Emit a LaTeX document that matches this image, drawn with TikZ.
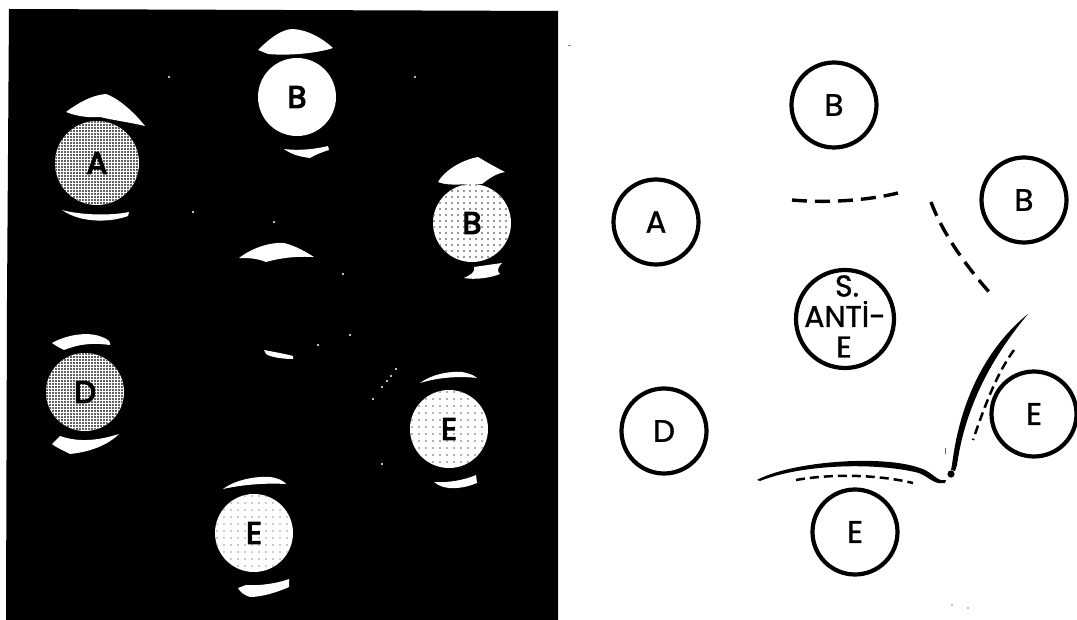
\documentclass[tikz,border=0pt]{standalone}
\usepackage{fontspec}
\setmainfont{Poppins}
\newfontface\keyface[FakeBold=1.2]{Poppins}
\newfontface\photoface[FakeBold=4]{Poppins}
\tikzset{
  x=1pt,y=-1pt,
  photodisc/.style={circle,fill=white,minimum size=#1,inner sep=0pt,text=black,font=\photoface\fontsize{31}{31}\selectfont},
  halftone/.style 2 args={path picture={
    \foreach \i in {-45,#1,...,45}{\foreach \j in {-45,#1,...,45}{
      \fill[#2] ([shift={(\i,\j)}]path picture bounding box.center) rectangle +(1.7,1.7);}}}},
  blob/.style={fill=white,draw=none},
  speck/.style={fill=white,draw=none},
  ringdisc/.style={circle,draw=black,line width=4.2pt,fill=white,minimum size=85pt,inner sep=0pt,font=\keyface\fontsize{31}{31}\selectfont},
  keytext/.style={font=\keyface\fontsize{30}{30}\selectfont,inner sep=0pt},
  dashline/.style={draw=black,line width=3.4pt,dash pattern=on 15pt off 8pt},
  thindash/.style={draw=black,line width=2.5pt,dash pattern=on 9pt off 5pt},
  band/.style={fill=black,draw=none},
}
\begin{document}
\begin{tikzpicture}
\useasboundingbox (0,0) rectangle (1077,620);
\fill[white] (0,0) rectangle (1077,620);
\fill[black] (9,9) -- (558,11) -- (558,620) -- (6,620) -- (7,300) -- cycle;

% photograph: discs
\node[photodisc=84pt,halftone={-42}{black!62}] (pa) at (97,163) {A};
\node[photodisc=78pt] (pb1) at (297,97) {B};
\node[photodisc=78pt,halftone={-39}{black!40}] (pb2) at (472,223) {B};
\node[photodisc=78pt,halftone={-42}{black!62}] (pd) at (85,392) {D};
\node[photodisc=78pt,halftone={-38}{black!30}] (pe1) at (449,429) {E};
\node[photodisc=78pt,halftone={-38}{black!20}] (pe2) at (254,533) {E};

% photograph: precipitate arcs
\fill[blob] (258,50) .. controls (270,38) and (282,29) .. (293,29) .. controls (308,30) and (322,38) .. (333,48) .. controls (318,53) and (290,56) .. (268,54) -- cycle;
\fill[blob] (284,149) .. controls (300,151) and (316,149) .. (328,146) -- (329,150) .. controls (322,152) and (315,155) .. (310,158) .. controls (302,157) and (292,155) .. (284,149) -- cycle;
\fill[blob] (66,112) .. controls (78,103) and (92,95) .. (106,94) .. controls (118,98) and (134,112) .. (145,126) .. controls (128,122) and (112,120) .. (100,117) .. controls (88,118) and (76,116) .. (66,112) -- cycle;
\fill[blob] (62,210) .. controls (80,215) and (110,216) .. (129,212) -- (128,216) .. controls (112,222) and (82,224) .. (62,210) -- cycle;
\fill[blob] (438,182) .. controls (445,170) and (462,160) .. (478,157) .. controls (488,163) and (497,168) .. (505,172) .. controls (495,174) and (490,178) .. (482,184) .. controls (470,183) and (450,187) .. (438,182) -- cycle;
\fill[blob] (474,267) -- (502,263) .. controls (496,269) and (498,272) .. (500,274) .. controls (490,278) and (475,280) .. (464,278) .. controls (470,275) and (476,272) .. (474,267) -- cycle;
\fill[blob] (239,258) .. controls (252,248) and (270,242) .. (284,243) .. controls (296,246) and (306,252) .. (314,257) .. controls (296,256) and (280,258) .. (266,262) .. controls (256,258) and (248,258) .. (239,258) -- cycle;
\fill[blob] (264,350) .. controls (274,352) and (286,354) .. (293,356) -- (293,359) .. controls (282,359) and (270,357) .. (266,354) -- cycle;
\fill[blob] (52,343) .. controls (66,335) and (88,331) .. (102,337) .. controls (108,339) and (111,342) .. (110,345) .. controls (95,343) and (82,343) .. (64,350) .. controls (60,348) and (56,346) .. (52,343) -- cycle;
\fill[blob] (60,436) .. controls (80,443) and (100,440) .. (119,434) .. controls (108,445) and (90,452) .. (70,454) .. controls (62,450) and (54,446) .. (52,444) -- cycle;
\fill[blob] (420,383) .. controls (432,374) and (450,371) .. (462,372) .. controls (468,373) and (474,375) .. (477,378) .. controls (460,376) and (440,377) .. (420,383) -- cycle;
\fill[blob] (434,482) .. controls (448,483) and (465,480) .. (476,475) -- (477,483) .. controls (465,488) and (445,492) .. (434,482) -- cycle;
\fill[blob] (223,489) .. controls (235,480) and (255,476) .. (270,477) .. controls (278,478) and (284,481) .. (286,484) .. controls (268,483) and (245,484) .. (223,489) -- cycle;
\fill[blob] (246,585) .. controls (262,586) and (278,583) .. (289,579) -- (289,587) .. controls (278,592) and (262,597) .. (250,597) .. controls (244,595) and (240,592) .. (238,588) -- cycle;

% photograph: specks
\foreach \sx/\sy in {169/77,415/77,193/212,274/222,343/274,350/335,318/345,396/369,391/376,387/381,382/387,373/399,382/464}
  \fill[speck] (\sx,\sy) circle (1.1);

% key: circles
\node[ringdisc] (kb1) at (834,105) {B};
\node[ringdisc] (ka) at (656,222) {A};
\node[ringdisc] (kb2) at (1024,200) {B};
\node[ringdisc] (kd) at (664,431) {D};
\node[ringdisc] (ke1) at (1034,414) {E};
\node[ringdisc] (ke2) at (855,532) {E};
\node[ringdisc,minimum size=98pt] (kanti) at (845,319) {};
\node[keytext] (kl1) at (847,286) {S.};
\node[keytext] (kl2) at (845,314) {ANTİ-};
\node[keytext] (kl3) at (844,347) {E};

% key: dashed arcs
\draw[dashline] (792,200) .. controls (825,203) and (865,201) .. (898,193);
\draw[dashline] (931,202) .. controls (942,232) and (965,265) .. (990,293);
\draw[thindash] (1014,350) .. controls (997,373) and (985,405) .. (973,440);
\draw[thindash] (796,480) .. controls (830,474) and (875,474) .. (913,483);

% key: solid precipitate bands
\fill[band] (1028,314) .. controls (992,343) and (961,392) .. (952,465) -- (957,465) .. controls (966,400) and (998,350) .. (1028,314) -- cycle;
\fill[band] (757,480) .. controls (790,462) and (880,454) .. (920,468) .. controls (930,471) and (936,479) .. (941,480) -- (946,480) -- (945,483) -- (938,483) .. controls (930,481) and (925,474) .. (915,472) .. controls (870,462) and (800,465) .. (760,481) -- cycle;
\fill[band] (951,474) circle (3.6);
\fill[band] (952,465) -- (957,465) -- (955,471) -- (951,470) -- cycle;

% key: stray marks
\fill[black!60] (945,448) rectangle +(1,6);
\fill[black!50] (952,605) circle (0.8);
\fill[black!50] (968,608) circle (0.8);
\fill[black!50] (568,45) rectangle +(3,1);
\end{tikzpicture}
\end{document}
